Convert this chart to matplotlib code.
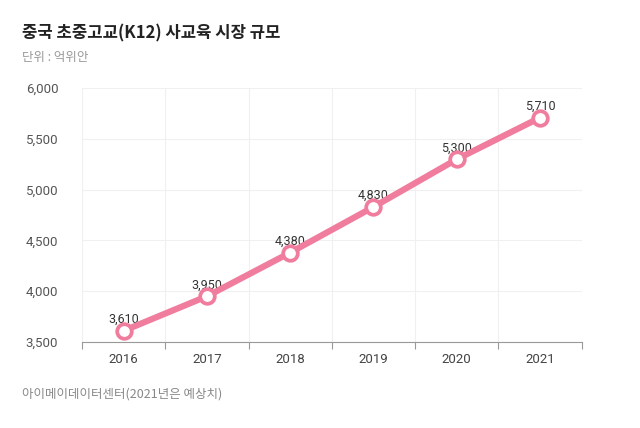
import matplotlib
matplotlib.use("Agg")
import matplotlib.pyplot as plt

plt.rcParams['font.family'] = ['Noto Sans CJK KR', 'DejaVu Sans']

years = ["2016", "2017", "2018", "2019", "2020", "2021"]
market = [3610, 3950, 4380, 4830, 5300, 5710]
yticks = [3500, 4000, 4500, 5000, 5500, 6000]

pink = "#F07C9E"
num_font = ["Roboto", "DejaVu Sans"]

fig = plt.figure(figsize=(6.4, 4.28), dpi=100)
ax = fig.add_axes([0.128, 0.201, 0.781, 0.593])

x = list(range(len(years)))
ax.plot(x, market, color=pink, lw=4.5, solid_capstyle="round", zorder=3,
        marker="o", markersize=10.5, markerfacecolor="white",
        markeredgecolor=pink, markeredgewidth=2.7)
for xi, v in zip(x, market):
    ax.annotate(f"{v:,}", (xi, v), xytext=(0, 3.5), textcoords="offset points",
                ha="center", va="bottom", fontsize=9, color="#333333",
                family=num_font, zorder=2)

ax.set_xlim(-0.5, len(years) - 0.5)
ax.set_ylim(3500, 6000)
ax.set_yticks(yticks)
ax.set_yticklabels([f"{t:,}" for t in yticks], family=num_font)
ax.set_xticks(x)
ax.set_xticklabels(years, family=num_font)
ax.set_xticks([i - 0.5 for i in range(len(years) + 1)], minor=True)

ax.grid(axis="y", color="#f0f0f0", lw=0.8, zorder=0)
ax.grid(axis="x", which="minor", color="#f0f0f0", lw=0.8, zorder=0)
ax.tick_params(axis="x", which="major", length=0, pad=8, labelsize=9.5, labelcolor="#444444")
ax.tick_params(axis="x", which="minor", length=5, color="#999999", width=0.8)
ax.tick_params(axis="y", length=0, pad=17, labelsize=9.5, labelcolor="#555555")
for s in ["top", "right", "left"]:
    ax.spines[s].set_visible(False)
ax.spines["bottom"].set_color("#999999")
ax.spines["bottom"].set_linewidth(0.8)

fig.text(22 / 640, 1 - 33 / 428, "중국 초중고교(K12) 사교육 시장 규모", fontsize=12,
         fontweight="bold", color="#222222", va="center")
fig.text(22 / 640, 1 - 58 / 428, "단위 : 억위안", fontsize=9, color="#999999", va="center")
fig.text(22 / 640, 1 - 394 / 428, "아이메이데이터센터(2021년은 예상치)", fontsize=9,
         color="#888888", va="center")

fig.savefig("out.png", dpi=100, facecolor="white")
